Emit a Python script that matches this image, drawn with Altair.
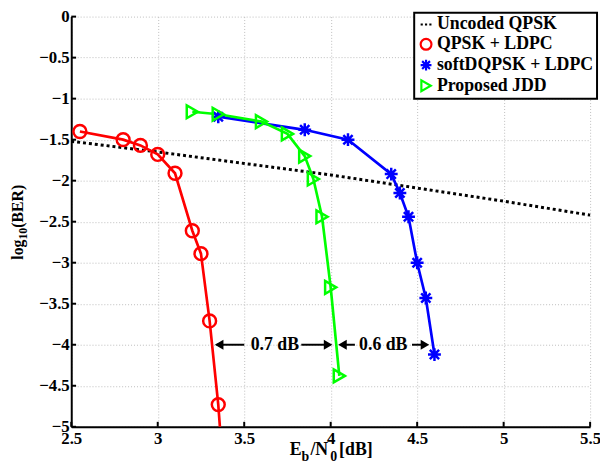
import altair as alt
import pandas as pd

# ---- data ----
names = ["Uncoded QPSK", "QPSK + LDPC", "softDQPSK + LDPC", "Proposed JDD"]
colors = ["#000000", "#ff0000", "#0000ff", "#00ff00"]

unc_x = [2.5, 3.0, 3.5, 4.0, 4.5, 5.0, 5.5]
unc_y = [-1.52, -1.65, -1.79, -1.93, -2.09, -2.25, -2.42]

ldpc_x = [2.55, 2.8, 2.9, 3.0, 3.1, 3.2, 3.25, 3.3, 3.35, 3.37]
ldpc_y = [-1.40, -1.50, -1.57, -1.68, -1.91, -2.61, -2.89, -3.71, -4.73, -5.3]

dq_x = [3.35, 3.85, 4.1, 4.35, 4.4, 4.45, 4.5, 4.55, 4.6]
dq_y = [-1.22, -1.38, -1.50, -1.92, -2.15, -2.44, -3.00, -3.43, -4.12]

jdd_x = [3.2, 3.35, 3.6, 3.75, 3.85, 3.9, 3.95, 4.0, 4.05]
jdd_y = [-1.16, -1.19, -1.28, -1.43, -1.70, -1.98, -2.44, -3.30, -4.38]

x_ticks = [2.5, 3.0, 3.5, 4.0, 4.5, 5.0, 5.5]
y_ticks = [0, -0.5, -1, -1.5, -2, -2.5, -3, -3.5, -4, -4.5, -5]

# annotation: gain arrows at log10(BER) = -4
arrow_y = -4.0
arrow_x1 = [3.34, 3.83, 4.06, 4.47]
arrow_x2 = [3.50, 3.99, 4.14, 4.55]
head_left_x = [3.355, 4.068]
head_right_x = [3.985, 4.545]
gain_text = ["0.7 dB", "0.6 dB"]
gain_x = [3.677, 4.304]

FONT = "Liberation Serif"

# ---- tables ----
unc_df = pd.DataFrame({"x": unc_x, "y": unc_y, "series": names[0]})
rows = []
for nm, xs_, ys_ in [(names[1], ldpc_x, ldpc_y), (names[2], dq_x, dq_y), (names[3], jdd_x, jdd_y)]:
    for i, (a, b) in enumerate(zip(xs_, ys_)):
        rows.append({"x": a, "y": b, "series": nm, "idx": i})
cur_df = pd.DataFrame(rows)

xs = alt.Scale(domain=[2.5, 5.5], nice=False, zero=False)
ys = alt.Scale(domain=[-5, 0], nice=False, zero=False)

lab = dict(labelFont=FONT, labelFontSize=17, labelFontWeight="bold", labelColor="black")
X = alt.X("x:Q", scale=xs, axis=alt.Axis(values=x_ticks, format="~g", title=None, ticks=False,
                                          labelPadding=4, labelFlush=False, labelOverlap=False,
                                          labelBound=False, grid=True, **lab))
Y = alt.Y("y:Q", scale=ys, axis=alt.Axis(values=y_ticks, format="~g", title=None, ticks=False,
                                          labelPadding=2, labelFlush=False, labelOverlap=False,
                                          labelBound=False, grid=True, **lab))

dots_path = "M-1,0L-0.6,0M-0.2,0L0.2,0M0.6,0L1,0"
star_path = "M-1,0L1,0M0,-1L0,1M-0.72,-0.72L0.72,0.72M-0.72,0.72L0.72,-0.72"

color_scale = alt.Scale(domain=names, range=colors)
shape_scale = alt.Scale(domain=names, range=[dots_path, "circle", star_path, "triangle-right"])

leg = alt.Legend(
    title=None, orient="none", legendX=347, legendY=-4, strokeColor="black", fillColor="white",
    padding=3, labelFont=FONT, labelFontSize=18, labelFontWeight="bold", labelColor="black",
    symbolStrokeWidth=2.2, symbolSize=120, rowPadding=1, labelOffset=2, cornerRadius=0,
    labelLimit=300,
)

unc_line = alt.Chart(unc_df).mark_line(color="black", strokeWidth=3, strokeDash=[3, 3]).encode(x=X, y=Y)

cur_lines = [
    alt.Chart(cur_df).transform_filter(alt.datum.series == nm).mark_line(
        strokeWidth=2.7, clip=True, color=col).encode(x=X, y=Y, order="idx:Q")
    for nm, col in zip(names[1:], colors[1:])
]

cur_points = alt.Chart(cur_df).mark_point(filled=False, strokeWidth=2.5, size=170, clip=True, opacity=1).encode(
    x=X, y=Y,
    color=alt.Color("series:N", scale=color_scale, legend=leg),
    shape=alt.Shape("series:N", scale=shape_scale, legend=leg),
)

# inward axis ticks
ytick_df = pd.DataFrame({"y": y_ticks, "x": 2.5, "x2": 2.528})
ytick = alt.Chart(ytick_df).mark_rule(color="black", strokeWidth=2).encode(x=X, x2="x2:Q", y=Y)
xtick_df = pd.DataFrame({"x": x_ticks, "y": -5.0, "y2": -4.94})
xtick = alt.Chart(xtick_df).mark_rule(color="black", strokeWidth=2).encode(x=X, y=Y, y2="y2:Q")

# arrows
arr_df = pd.DataFrame({"x": arrow_x1, "x2": arrow_x2, "y": arrow_y})
arrows = alt.Chart(arr_df).mark_rule(color="black", strokeWidth=2).encode(x=X, x2="x2:Q", y=Y)
hl = alt.Chart(pd.DataFrame({"x": head_left_x, "y": arrow_y})).mark_point(
    shape="triangle-left", filled=True, color="black", size=100, opacity=1).encode(x=X, y=Y)
hr = alt.Chart(pd.DataFrame({"x": head_right_x, "y": arrow_y})).mark_point(
    shape="triangle-right", filled=True, color="black", size=100, opacity=1).encode(x=X, y=Y)
gtxt = alt.Chart(pd.DataFrame({"x": gain_x, "y": arrow_y, "t": gain_text})).mark_text(
    font=FONT, fontSize=18, fontWeight="bold", color="black", baseline="middle").encode(x=X, y=Y, text="t:N")

# axis titles with subscripts
one = pd.DataFrame({"a": [0]})


def piece(txt, px, py, size, angle=0):
    return alt.Chart(one).mark_text(text=txt, font=FONT, fontSize=size, fontWeight="bold",
                                    align="left", baseline="alphabetic", angle=angle,
                                    color="black").encode(x=alt.value(px), y=alt.value(py))


xtitle = [
    piece("E", 221, 444, 18), piece("b", 233, 450, 14),
    piece("/N", 242, 444, 18), piece("0", 262, 450, 14),
    piece("[dB]", 271, 444, 18),
]
ytitle = [
    piece("log", -49, 246, 16, 270), piece("10", -45, 225.6, 12, 270),
    piece("(BER)", -49, 213.6, 16, 270),
]

chart = alt.layer(
    unc_line, *cur_lines, cur_points, ytick, xtick, arrows, hl, hr, gtxt, *xtitle, *ytitle
).properties(
    width=525, height=415,
    autosize=alt.AutoSizeParams(type="none"),
    padding={"left": 64, "top": 6, "right": 10, "bottom": 38},
).configure_view(stroke=None).configure_axis(
    labelFont=FONT, labelFontSize=17, labelFontWeight="bold", labelColor="black",
    domainColor="black", domainWidth=2,
    gridColor="#bdbdbd", gridDash=[1, 2], gridWidth=1, gridOpacity=1,
).configure_legend(strokeWidth=2)

chart.save("out.html", embed_options={"renderer": "svg", "actions": False})
